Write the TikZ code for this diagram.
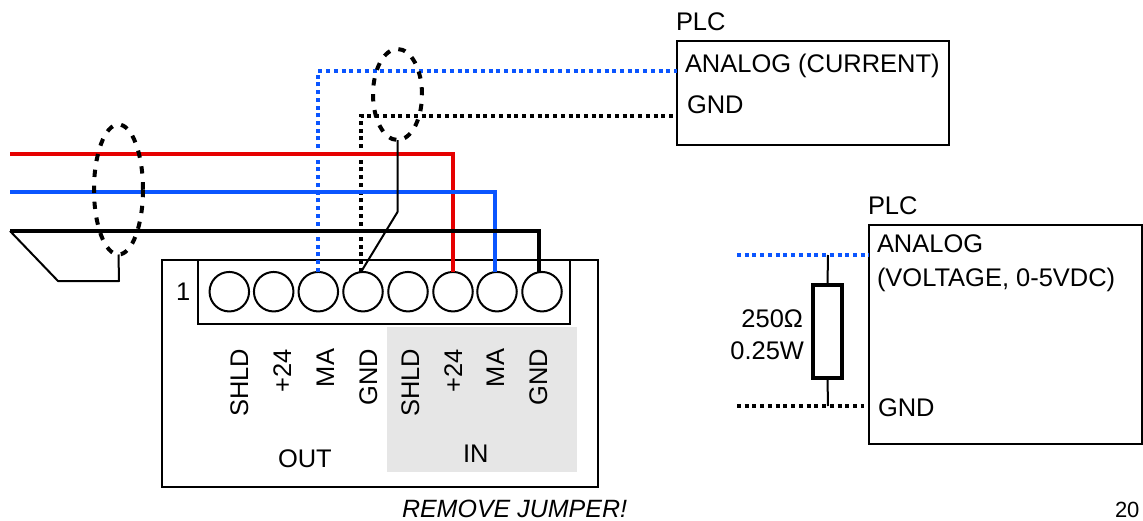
\documentclass[tikz,border=0pt]{standalone}
\usepackage{fontspec}
\setmainfont{Liberation Sans}
\usetikzlibrary{shapes.geometric}
\def\px{0.75pt}
\definecolor{wirered}{HTML}{E60000}
\definecolor{wireblue}{HTML}{0A55FF}
\definecolor{graypanel}{HTML}{E6E6E6}
\tikzset{
  lbl/.style={inner sep=0pt,outer sep=0pt,anchor=base west,font=\fontsize{19.1}{22}\selectfont},
  lblr/.style={lbl,anchor=base east},
  vlbl/.style={lbl,anchor=base east,rotate=90},
  boxed/.style={draw=black,line width=1.5pt,rectangle,inner sep=0pt,outer sep=0pt},
  term/.style={draw=black,line width=1.5pt,circle,inner sep=0pt,outer sep=0pt,minimum size=39.5*\px},
  wire/.style={line width=3pt,line join=miter},
  dotw/.style={line width=3pt,dash pattern=on 3pt off 2.8pt},
  thinw/.style={line width=1.5pt,line join=round},
  shield/.style={draw=black,ellipse,line width=3pt,dash pattern=on 5.5pt off 6.5pt,inner sep=0pt,outer sep=0pt},
}
\begin{document}
\begin{tikzpicture}[x=\px,y=-\px]
\useasboundingbox (0,0) rectangle (1143,521);
% gray panel
\fill[graypanel] (387,327) rectangle (577,472);
% boxes
\node[boxed,minimum width=436*\px,minimum height=227*\px] (outer) at (380,373.5) {};
\node[boxed,minimum width=372*\px,minimum height=64*\px] (strip) at (384,292) {};
\node[boxed,minimum width=272*\px,minimum height=104*\px] (plcA) at (813,93) {};
\node[boxed,minimum width=273*\px,minimum height=219*\px] (plcB) at (1005.5,334.5) {};
% terminals
\node[term] (c1) at (229.3,291.7) {};
\node[term] (c2) at (273.7,291.7) {};
\node[term] (c3) at (318.3,291.7) {};
\node[term] (c4) at (363,291.7) {};
\node[term] (c5) at (408,291.7) {};
\node[term] (c6) at (453,291.7) {};
\node[term] (c7) at (497,291.7) {};
\node[term] (c8) at (542,291.7) {};
% free ends
\coordinate (redL) at (10,153.5);
\coordinate (blueL) at (10,191.5);
\coordinate (blackL) at (10,231);
\coordinate (drainA) at (58,281);
\coordinate (drainB) at (119,281);
\coordinate (plcAan) at (677,71);
\coordinate (plcAgnd) at (677,116);
\coordinate (bend) at (397.5,212);
\coordinate (vblue) at (737,255);
\coordinate (vblack) at (737,406);
\coordinate (vgnd) at (864,406);
\coordinate (rtop) at (828,255);
\coordinate (rbot) at (828,406);
\coordinate (plcBan) at (869,255);
% dotted wires
\draw[dotw,wireblue] (c3.north) |- (plcAan);
\draw[dotw,black] ([xshift=-1.5pt]c4.north) |- (plcAgnd);
% solid wires
\draw[wire,wirered] (redL) -| (c6.north);
\draw[wire,wireblue] (blueL) -| ([xshift=-1.5pt]c7.north);
\draw[wire,black] (blackL) -| ([xshift=-2.2pt]c8.north);
% shields
\node[shield,minimum width=49*\px,minimum height=130*\px] (s1) at (118.5,189.5) {};
\node[shield,minimum width=49*\px,minimum height=91*\px] (s2) at (397.5,94.5) {};
\draw[thinw] (blackL) -- (drainA) -- (drainB) -- (s1.south);
\draw[thinw] (s2.south) -- (bend) -- ([xshift=-1.5pt]c4.north);
% resistor part
\draw[dotw,wireblue] (vblue) -- (plcBan);
\draw[dotw,black] (vblack) -- (vgnd);
\node[draw=black,fill=white,line width=2.8pt,rectangle,inner sep=0pt,outer sep=0pt,minimum width=29*\px,minimum height=93*\px] (res) at (827.5,331.5) {};
\draw[thinw] (rtop) -- (res.north);
\draw[thinw] (res.south) -- (rbot);
% texts
\node[lbl] (t1) at (176,300.5) {1};
\node[vlbl] (l1) at (248,349) {SHLD};
\node[vlbl] (l2) at (291,349) {+24};
\node[vlbl] (l3) at (334,349) {MA};
\node[vlbl] (l4) at (377,349) {GND};
\node[vlbl] (l5) at (419,349) {SHLD};
\node[vlbl] (l6) at (462,349) {+24};
\node[vlbl] (l7) at (504,349) {MA};
\node[vlbl] (l8) at (547,349) {GND};
\node[lbl] (tout) at (278,467) {OUT};
\node[lbl] (tin) at (463,462.5) {IN};
\node[lbl,font=\fontsize{18.75}{22}\selectfont\itshape] (tjump) at (402,517.5) {REMOVE JUMPER!};
\node[lbl] (tplc1) at (676,31) {PLC};
\node[lbl] (tan1) at (685,72) {ANALOG (CURRENT)};
\node[lbl] (tg1) at (687,113) {GND};
\node[lbl] (tplc2) at (868,214) {PLC};
\node[lbl] (tan2) at (877,252) {ANALOG};
\node[lbl] (tv2) at (877,286) {(VOLTAGE, 0-5VDC)};
\node[lbl] (tg2) at (878,416) {GND};
\node[lblr] (tr1) at (803,327) {250Ω};
\node[lblr] (tr2) at (804,359) {0.25W};
\node[lbl,font=\fontsize{16.5}{20}\selectfont] (tpage) at (1115,517) {20};
\end{tikzpicture}
\end{document}
